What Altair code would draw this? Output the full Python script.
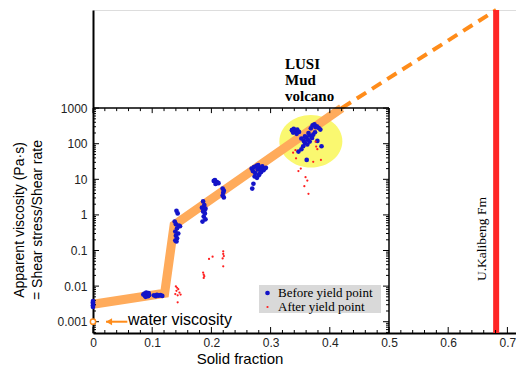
import math
import altair as alt
import pandas as pd

# ---------------- data ----------------
series_names = ["Before yield point", "After yield point"]
series_colors = ["#1414C8", "#FF2020"]

before_x = [0, 0, 0, 0, 0,
            0.085, 0.087, 0.088, 0.090, 0.090, 0.092, 0.093, 0.095, 0.089, 0.094,
            0.103, 0.106, 0.108, 0.111, 0.114, 0.117,
            0.141, 0.143, 0.138, 0.140, 0.145, 0.147, 0.142, 0.139, 0.144, 0.140, 0.142, 0.139, 0.141,
            0.186, 0.188, 0.190, 0.184, 0.186, 0.189, 0.187, 0.190, 0.185, 0.188,
            0.204, 0.206, 0.208, 0.210, 0.212, 0.207,
            0.219, 0.221, 0.220, 0.219, 0.221,
            0.268, 0.270, 0.272, 0.274, 0.276, 0.278, 0.280, 0.282, 0.284, 0.286, 0.288,
            0.290, 0.292, 0.273, 0.277, 0.281, 0.285, 0.271, 0.269, 0.279, 0.283,
            0.336, 0.339, 0.342, 0.345, 0.348, 0.338, 0.344,
            0.368, 0.371, 0.374, 0.378, 0.381, 0.384, 0.376,
            0.352, 0.356, 0.360, 0.363, 0.366, 0.370, 0.358, 0.362, 0.372, 0.375,
            0.364, 0.355, 0.352, 0.347, 0.361, 0.386, 0.379, 0.366, 0.358]
before_y = [0.0026, 0.0029, 0.0032, 0.0035, 0.0038,
            0.0058, 0.0062, 0.0053, 0.0066, 0.0057, 0.0061, 0.0052, 0.0056, 0.0050, 0.0064,
            0.0055, 0.0052, 0.0057, 0.0054, 0.0056, 0.0053,
            1.3, 1.1, 0.65, 0.55, 0.50, 0.48, 0.42, 0.34, 0.30, 0.26, 0.22, 0.19, 0.18,
            2.4, 1.9, 1.5, 1.6, 1.25, 1.1, 0.9, 0.75, 0.65, 1.35,
            9.0, 9.5, 8.5, 8.2, 7.8, 7.4,
            5.5, 4.8, 4.2, 3.5, 3.1,
            20, 17, 22, 15, 24, 19, 13, 21, 16, 23, 18,
            20, 21, 12, 11, 14, 19, 7.5, 5.5, 25, 17,
            240, 260, 230, 250, 215, 205, 190,
            270, 330, 350, 310, 280, 250, 290,
            140, 120, 150, 130, 170, 145, 105, 95, 180, 210,
            200, 85, 70, 60, 35, 85, 120, 115, 160]

after_x = [0.140, 0.142, 0.144, 0.141, 0.146, 0.139, 0.143, 0.148, 0.143,
           0.186, 0.187, 0.188, 0.187,
           0.196, 0.202,
           0.220, 0.220, 0.221, 0.219, 0.220,
           0.338, 0.342, 0.343, 0.347, 0.351, 0.359, 0.362, 0.357, 0.364,
           0.372, 0.385, 0.379, 0.377, 0.376]
after_y = [0.0098, 0.0090, 0.0082, 0.0074, 0.0066, 0.0060, 0.0055, 0.0058, 0.0035,
           0.024, 0.021, 0.019, 0.017,
           0.058, 0.067,
           0.095, 0.080, 0.070, 0.060, 0.036,
           56, 66, 39, 17, 20, 11.5, 9.2, 6.4, 3.9,
           31, 35, 70, 83, 114]

trend_x = [0.0, 0.121, 0.137, 0.42]
trend_y = [0.0031, 0.0063, 0.52, 1000]

x_major = [0, 0.1, 0.2, 0.3, 0.4, 0.5, 0.6, 0.7]
y_major = [0.001, 0.01, 0.1, 1, 10, 100, 1000]

lusi_center_x = [0.368]
lusi_center_y = [117]
water_x = [0.0]
water_y = [0.001]
kalibeng_x = 0.681
box_right = 0.5
box_top = 1000

# ---------------- layout ----------------
W, H = 423, 323
PXU = 592.0                        # pixels per unit solid fraction
XMAX = W / PXU
LMAX = 5.756
LMIN = -3.317
YMIN, YMAX = 10 ** LMIN, 10 ** LMAX


def py(v):
    return H * (LMAX - math.log10(v)) / (LMAX - LMIN)


def px(v):
    return v * PXU


extrap_x = [trend_x[-1], kalibeng_x]
extrap_y = [trend_y[-1], YMAX]

x_minor = [round(0.02 * k, 2) for k in range(0, 36) if k % 5 != 0 and 0.02 * k < XMAX]
top_major = [v for v in x_major if v <= box_right]
top_minor = [v for v in x_minor if v < box_right]
y_minor = [m * 10 ** e for e in range(-4, 3) for m in range(2, 10) if YMIN < m * 10 ** e < box_top]

xs = alt.Scale(domain=[0, XMAX], nice=False, zero=False)
ys = alt.Scale(type="log", domain=[YMIN, YMAX], nice=False)

xaxis = alt.Axis(values=x_major, labelExpr="datum.value == 0 ? '0' : format(datum.value, '.1f')",
                 ticks=False, domainColor="black", domainWidth=2, grid=False, title=None,
                 labelFont="Liberation Sans", labelFontSize=12, labelColor="#222222",
                 labelPadding=4, labelFlush=False)
yaxis = alt.Axis(values=y_major, labelExpr="format(datum.value, '~g')",
                 ticks=False, domainColor="black", domainWidth=2, grid=False, title=None,
                 labelFont="Liberation Sans", labelFontSize=12, labelColor="#222222",
                 labelPadding=6, labelFlush=False)


def X():
    return alt.X("x:Q", scale=xs, axis=xaxis)


def Y():
    return alt.Y("y:Q", scale=ys, axis=yaxis)


one = pd.DataFrame({"a": [0]})

# ellipse highlighting LUSI
ELL = "M -1 0 A 1 0.835 0 1 0 1 0 A 1 0.835 0 1 0 -1 0 Z"
ellipse = alt.Chart(pd.DataFrame({"x": lusi_center_x, "y": lusi_center_y})).mark_point(
    shape=ELL, size=3969, filled=True, color="#FAF870", opacity=1, strokeWidth=0
).encode(x=X(), y=Y())

legend_box = alt.Chart(one).mark_rect(color="#D9D9D9").encode(
    x=alt.value(166), x2=alt.value(288), y=alt.value(275), y2=alt.value(303))

trend = alt.Chart(pd.DataFrame({"x": trend_x, "y": trend_y})).mark_line(
    color="#FFAB5B", strokeWidth=9, strokeCap="butt", strokeJoin="miter"
).encode(x=X(), y=Y())

extrap = alt.Chart(pd.DataFrame({"x": extrap_x, "y": extrap_y})).mark_line(
    color="#FF8C1A", strokeWidth=4, strokeDash=[11, 7]
).encode(x=X(), y=Y())

pts_df = pd.concat([
    pd.DataFrame({"x": before_x, "y": before_y, "series": series_names[0]}),
    pd.DataFrame({"x": after_x, "y": after_y, "series": series_names[1]}),
])
leg = alt.Legend(orient="none", legendX=168, legendY=276.5, title=None,
                 labelFont="Liberation Serif", labelFontSize=13, labelColor="black",
                 symbolType="circle", labelOffset=4, rowPadding=0, padding=0,
                 symbolStrokeWidth=0)
points = alt.Chart(pts_df).mark_circle(opacity=1).encode(
    x=X(), y=Y(),
    color=alt.Color("series:N", scale=alt.Scale(domain=series_names, range=series_colors), legend=leg),
    size=alt.Size("series:N", scale=alt.Scale(domain=series_names, range=[22, 5]), legend=leg),
)

# box borders and the red formation bar
top_border = alt.Chart(pd.DataFrame({"x": [0, box_right], "y": [box_top, box_top]})).mark_line(
    color="black", strokeWidth=1.5).encode(x=X(), y=Y())
right_border = alt.Chart(pd.DataFrame({"x": [box_right, box_right], "y": [YMIN, box_top]})).mark_line(
    color="black", strokeWidth=1.5).encode(x=X(), y=Y())
red_bar = alt.Chart(pd.DataFrame({"x": [kalibeng_x, kalibeng_x], "y": [YMIN, YMAX]})).mark_line(
    color="#FF2525", strokeWidth=6, strokeCap="butt").encode(x=X(), y=Y())

# inward ticks
def xticks(vals, y0, length):
    return alt.Chart(pd.DataFrame({"x": vals})).mark_rule(color="black", strokeWidth=1).encode(
        x=X(), y=alt.value(y0), y2=alt.value(y0 + length))


def yticks(vals, x0, length):
    return alt.Chart(pd.DataFrame({"y": vals})).mark_rule(color="black", strokeWidth=1).encode(
        y=Y(), x=alt.value(x0), x2=alt.value(x0 + length))


ptop = py(box_top)
pright = px(box_right)
ticks = [
    xticks(x_major, H, -6), xticks(x_minor, H, -3),
    xticks(top_major, ptop, 5), xticks(top_minor, ptop, 3),
    yticks(y_major, 0, 6), yticks(y_minor, 0, 3),
    yticks(y_major, pright, -6), yticks(y_minor, pright, -3),
]

# water viscosity annotation
water_pt = alt.Chart(pd.DataFrame({"x": water_x, "y": water_y})).mark_point(
    shape="circle", filled=True, fill="white", stroke="#FF8C1A", strokeWidth=1.5, size=28, opacity=1
).encode(x=X(), y=Y())
arrow_line = alt.Chart(pd.DataFrame({"x": [0.022, 0.058], "y": [0.001, 0.001]})).mark_line(
    color="#FF8C1A", strokeWidth=2).encode(x=X(), y=Y())
arrow_head = alt.Chart(pd.DataFrame({"x": [0.027], "y": [0.001]})).mark_point(
    shape="triangle-left", filled=True, color="#FF8C1A", size=50, opacity=1).encode(x=X(), y=Y())
water_txt = alt.Chart(pd.DataFrame({"x": [0.059], "y": [0.001], "t": ["water viscosity"]})).mark_text(
    align="left", baseline="middle", font="Liberation Sans", fontSize=16, color="black", dy=-2
).encode(x=X(), y=Y(), text="t:N")

# text annotations
lusi_txt = alt.Chart(one).mark_text(
    text="LUSI\nMud\nvolcano", lineBreak="\n", align="left", baseline="top",
    font="Liberation Serif", fontWeight="bold", fontSize=15, lineHeight=16, color="black"
).encode(x=alt.value(192), y=alt.value(47))
kal_txt = alt.Chart(one).mark_text(
    text="U.Kalibeng Fm", angle=270, align="center", baseline="middle",
    font="Liberation Serif", fontSize=13.5, color="black"
).encode(x=alt.value(389), y=alt.value(229))
ytitle1 = alt.Chart(one).mark_text(
    text="Apparent viscosity (Pa·s)", angle=270, align="center", baseline="middle",
    font="Liberation Sans", fontSize=14, color="black"
).encode(x=alt.value(-73), y=alt.value(210))
ytitle2 = alt.Chart(one).mark_text(
    text="= Shear stress/Shear rate", angle=270, align="center", baseline="middle",
    font="Liberation Sans", fontSize=14, color="black"
).encode(x=alt.value(-55), y=alt.value(210))
xtitle = alt.Chart(one).mark_text(
    text="Solid fraction", align="center", baseline="middle",
    font="Liberation Sans", fontSize=15, color="black"
).encode(x=alt.value(147), y=alt.value(348.5))

chart = alt.layer(
    ellipse, legend_box, trend, extrap, red_bar, top_border, right_border, *ticks,
    points, arrow_line, arrow_head, water_pt, water_txt,
    lusi_txt, kal_txt, ytitle1, ytitle2, xtitle,
).properties(
    width=W, height=H,
    autosize=alt.AutoSizeParams(type="none"),
    padding={"left": 85, "top": 2, "right": 0, "bottom": 33},
).configure_view(stroke=None).configure(background="white")

chart.save("out.html", embed_options={"renderer": "svg", "actions": False})
